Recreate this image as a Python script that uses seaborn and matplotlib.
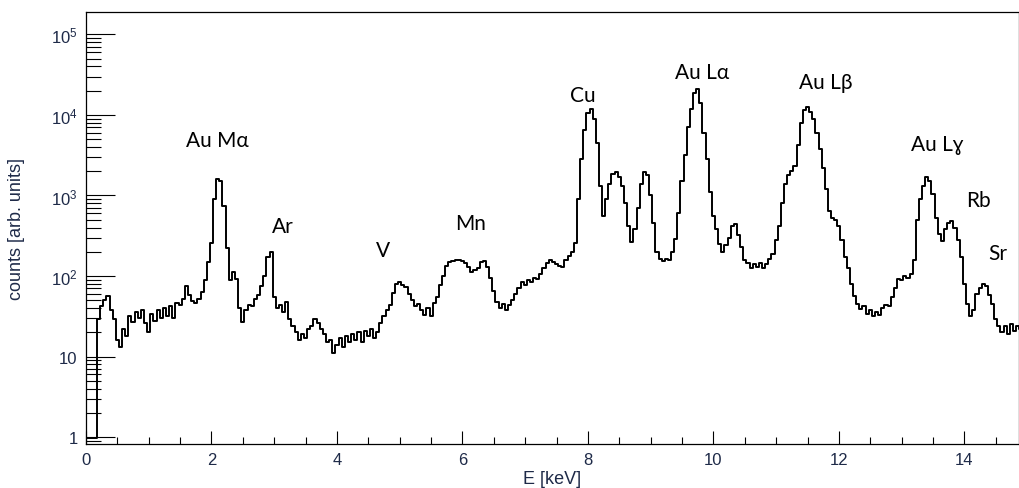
import numpy as np
import pandas as pd
import matplotlib
matplotlib.use("Agg")
import matplotlib.pyplot as plt
import seaborn as sns
from matplotlib.ticker import LogLocator, FuncFormatter, MultipleLocator, NullFormatter

# X-ray fluorescence spectrum, 0.05 keV bins starting at 0 keV
bin_width_kev = 0.05
counts = [
    # 0.00 - 0.95 keV
    0.97, 0.97, 0.97, 0.97, 29, 42, 50, 56, 38, 29, 16, 13, 22, 18, 32, 27, 36, 30, 38, 26,
    # 1.00 - 1.95 keV
    20, 34, 28, 38, 30, 40, 32, 42, 30, 46, 44, 52, 75, 58, 49, 46, 52, 63, 90, 150,
    # 2.00 - 2.95 keV
    260, 900, 1600, 1500, 750, 220, 88, 112, 92, 40, 27, 38, 44, 42, 52, 58, 75, 100, 170, 200,
    # 3.00 - 3.95 keV
    55, 40, 44, 36, 47, 29, 24, 20, 16, 19, 17, 22, 24, 29, 26, 22, 19, 15, 16, 11,
    # 4.00 - 4.95 keV
    14, 17, 13, 18, 15, 19, 16, 20, 15, 21, 18, 22, 17, 20, 26, 32, 38, 44, 62, 80,
    # 5.00 - 5.95 keV
    84, 78, 73, 60, 50, 42, 45, 38, 33, 40, 32, 46, 55, 78, 100, 135, 150, 155, 160, 158,
    # 6.00 - 6.95 keV
    152, 145, 128, 112, 118, 125, 150, 155, 130, 95, 65, 47, 40, 45, 38, 44, 50, 60, 70, 84,
    # 7.00 - 7.95 keV
    78, 90, 85, 95, 92, 105, 125, 145, 160, 150, 140, 135, 130, 160, 177, 200, 260, 900, 2800, 6500,
    # 8.00 - 8.95 keV
    10500, 11800, 9000, 4500, 1300, 560, 900, 1400, 1850, 1950, 1700, 1300, 800, 420, 265, 380, 700, 1400, 1950, 1800,
    # 9.00 - 9.95 keV
    1000, 450, 200, 165, 155, 165, 160, 200, 290, 600, 1500, 3200, 7000, 12000, 19000, 21000, 14000, 6000, 2800, 1100,
    # 10.00 - 10.95 keV
    560, 380, 250, 200, 240, 300, 420, 440, 320, 230, 160, 145, 125, 140, 128, 145, 125, 140, 165, 190,
    # 11.00 - 11.95 keV
    280, 420, 800, 1400, 1800, 2000, 2300, 4200, 8000, 11500, 12600, 11000, 9000, 6000, 3800, 2200, 1200, 650, 520, 500,
    # 12.00 - 12.95 keV
    420, 280, 170, 125, 80, 56, 45, 39, 42, 34, 38, 32, 36, 33, 40, 44, 42, 55, 70, 92,
    # 13.00 - 13.95 keV
    88, 100, 95, 105, 160, 500, 900, 1300, 1700, 1500, 1050, 520, 330, 270, 380, 450, 480, 400, 280, 170,
    # 14.00 - 14.90 keV
    80, 45, 32, 38, 60, 70, 80, 75, 58, 45, 29, 24, 20, 24, 19, 25, 21, 24, 22,
]

# Emission line labels and where they sit (keV, counts at text baseline)
peak_labels = ["Au M\u03b1", "Ar", "V", "Mn", "Cu", "Au L\u03b1", "Au L\u03b2", "Au L\u0263", "Rb", "Sr"]
label_energy = [2.10, 3.14, 4.73, 6.13, 7.92, 9.82, 11.79, 13.56, 14.22, 14.53]
label_counts = [4120, 352, 177, 384, 14900, 28800, 21600, 3670, 741, 163]

energy = np.round(np.arange(len(counts)) * bin_width_kev, 3)
spectrum = pd.DataFrame({"E": energy, "counts": counts})

sns.set_style("ticks")
plt.rcParams["font.family"] = ["Liberation Sans", "DejaVu Sans"]
plt.rcParams["mathtext.default"] = "regular"

text_color = "#1e2a48"

fig = plt.figure(figsize=(10.19, 4.89), dpi=100)
ax = fig.add_axes([86 / 1019, 44 / 489, 933 / 1019, 432 / 489])

sns.lineplot(data=spectrum, x="E", y="counts", estimator=None, drawstyle="steps-mid",
             color="black", linewidth=1.4, ax=ax)

ax.set_yscale("log")
ax.set_xlim(0, 14.87)
ax.set_ylim(0.82, 1.9e5)

def decade_label(v, pos):
    e = int(round(np.log10(v)))
    if e == 0:
        return "1"
    if e == 1:
        return "10"
    return r"$\mathdefault{10^{%d}}$" % e

ax.yaxis.set_major_locator(LogLocator(base=10, numticks=20))
ax.yaxis.set_minor_locator(LogLocator(base=10, subs=np.arange(2, 10), numticks=100))
ax.yaxis.set_major_formatter(FuncFormatter(decade_label))
ax.yaxis.set_minor_formatter(NullFormatter())
ax.xaxis.set_major_locator(MultipleLocator(2))
ax.xaxis.set_minor_locator(MultipleLocator(0.5))

ax.tick_params(axis="both", which="both", direction="in", top=False, right=False,
               width=0.8, colors="black", labelcolor=text_color, labelsize=12, pad=6)
ax.tick_params(axis="y", which="major", length=21)
ax.tick_params(axis="y", which="minor", length=11)
ax.tick_params(axis="x", which="major", length=9.5)
ax.tick_params(axis="x", which="minor", length=5)

for side in ["left", "right", "top", "bottom"]:
    ax.spines[side].set_visible(True)
    ax.spines[side].set_linewidth(0.9)
    ax.spines[side].set_color("black")

ax.set_xlabel("E [keV]", fontsize=13, color=text_color, labelpad=2)
ax.set_ylabel("counts [arb. units]", fontsize=13, color=text_color, labelpad=19)

for text, e, c in zip(peak_labels, label_energy, label_counts):
    ax.text(e, c, text, ha="center", va="baseline", fontsize=15,
            family=["Lato", "DejaVu Sans"], color="black")

fig.savefig("out.png", dpi=100)
